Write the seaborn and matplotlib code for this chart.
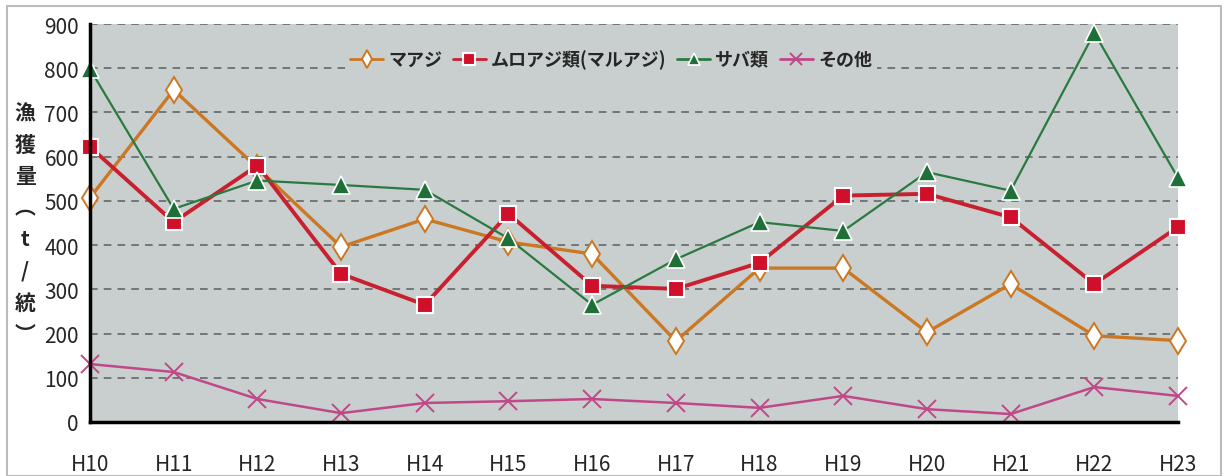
import matplotlib
matplotlib.use("Agg")
import matplotlib.pyplot as plt
import seaborn as sns
import pandas as pd
from matplotlib.patches import Rectangle

years = ["H10", "H11", "H12", "H13", "H14", "H15", "H16", "H17", "H18", "H19", "H20", "H21", "H22", "H23"]
maaji = [507, 751, 575, 396, 459, 407, 380, 183, 348, 348, 203, 312, 195, 184]
muroaji = [622, 452, 580, 335, 265, 471, 308, 301, 360, 512, 516, 463, 312, 441]
saba = [798, 482, 546, 536, 525, 415, 265, 368, 452, 432, 565, 523, 880, 552]
sonota = [131, 113, 52, 20, 43, 47, 52, 43, 32, 59, 29, 18, 79, 59]
names = ["マアジ", "ムロアジ類(マルアジ)", "サバ類", "その他"]
yticks = [0, 100, 200, 300, 400, 500, 600, 700, 800, 900]

sns.set_theme(style="white")
plt.rcParams['font.family'] = ['Liberation Sans Narrow', 'Noto Sans CJK JP', 'DejaVu Sans']

fig = plt.figure(figsize=(12.24, 4.77), dpi=100)
ax = fig.add_axes([90 / 1224, 1 - 423 / 477, (1178 - 90) / 1224, (423 - 25) / 477])
ax.set_facecolor("#C9CFCE")

styles = [
    dict(color="#CC7722", marker="d", markersize=13, markerfacecolor="white", markeredgecolor="#CC7722",
         markeredgewidth=1.4, linewidth=2.4),
    dict(color="#C8202E", marker="s", markersize=12, markerfacecolor="#D0102A", markeredgecolor="white",
         markeredgewidth=1.5, linewidth=2.8),
    dict(color="#2A7A40", marker="^", markersize=13, markerfacecolor="#1E7038", markeredgecolor="white",
         markeredgewidth=1.2, linewidth=1.6),
    dict(color="#C04888", marker="x", markersize=13, markeredgecolor="#C04888", markeredgewidth=1.4,
         linewidth=1.8),
]
xpos = list(range(len(years)))
for name, vals, st in zip(names, [maaji, muroaji, saba, sonota], styles):
    df = pd.DataFrame({"x": xpos, "y": vals})
    sns.lineplot(data=df, x="x", y="y", ax=ax, label=name, clip_on=False, zorder=3, **st)

ax.set_xlim(0, len(years) - 1)
ax.set_ylim(0, 900)
ax.set_xticks(xpos)
ax.set_xticklabels(years, fontsize=15)
ax.set_yticks(yticks)
ax.set_yticklabels([str(v) for v in yticks], fontsize=15)
ax.tick_params(axis="x", direction="in", length=7, width=2, color="black", pad=22)
ax.tick_params(axis="y", direction="in", length=6, width=2, color="black", pad=8)
ax.set_xlabel("")
ax.set_ylabel("")
for s in ["top", "right"]:
    ax.spines[s].set_visible(False)
for s in ["left", "bottom"]:
    ax.spines[s].set_color("black")
    ax.spines[s].set_linewidth(2.5)
    ax.spines[s].set_zorder(4)
ax.yaxis.grid(True, linestyle=(0, (5, 4)), color="#5A6060", linewidth=1.1)
ax.set_axisbelow(True)

leg = ax.legend(loc="upper center", bbox_to_anchor=(0.479, 0.973), ncol=4, frameon=True,
                facecolor="#C9CFCE", edgecolor="none", framealpha=1, handlelength=1.8,
                columnspacing=0.6, handletextpad=0.3, borderpad=0.3, markerscale=0.7,
                prop={"family": ["Noto Sans CJK JP", "DejaVu Sans"], "size": 13, "weight": "bold"})
for line in leg.get_lines():
    line.set_linewidth(2)

fig.text(25 / 1224, 1 - 224 / 477, "漁\n獲\n量\n︵\nt\n/\n統\n︶", ha="center", va="center",
         fontsize=15, linespacing=1.62, family=["Noto Sans CJK JP", "DejaVu Sans"], fontweight="bold")

fig.patches.append(Rectangle((7 / 1224, 0.0), (1221 - 7) / 1224, 1 - 7 / 477, transform=fig.transFigure,
                             fill=False, edgecolor="#BBBBBB", linewidth=1.5))

fig.savefig("out.png", dpi=100)
